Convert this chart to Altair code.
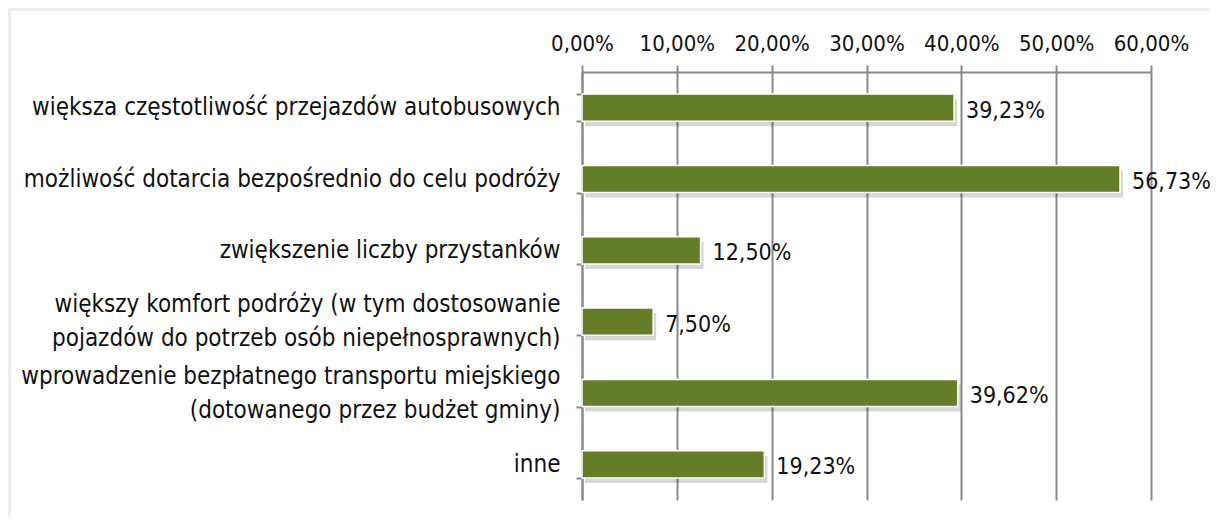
import altair as alt
import pandas as pd

categories = [
    "większa częstotliwość przejazdów autobusowych",
    "możliwość dotarcia bezpośrednio do celu podróży",
    "zwiększenie liczby przystanków",
    "większy komfort podróży (w tym dostosowanie|pojazdów do potrzeb osób niepełnosprawnych)",
    "wprowadzenie bezpłatnego transportu miejskiego|(dotowanego przez budżet gminy)",
    "inne",
]
values = [39.23, 56.73, 12.50, 7.50, 39.62, 19.23]
x_ticks = [0, 10, 20, 30, 40, 50, 60]

df = pd.DataFrame({"cat": categories, "v": values})

FONT = "DejaVu Sans Condensed"
GREEN = "#657c28"
GREY = "#898989"
W, H = 569, 428

y_enc = alt.Y(
    "cat:N",
    sort=categories,
    title=None,
    scale=alt.Scale(paddingInner=0.62, paddingOuter=0.31),
    axis=alt.Axis(
        labelExpr="split(datum.label, '|')",
        labelFont=FONT,
        labelFontSize=24,
        labelColor="#111111",
        labelLimit=600,
        labelPadding=16,
        labelLineHeight=34,
        labelOverlap=False,
        labelOffset=alt.condition("length(split(datum.value, '|')) > 1", alt.value(-17), alt.value(0)),
        tickSize=6,
        tickWidth=2,
        tickColor=GREY,
        tickBand="extent",
        domainColor=GREY,
        domainWidth=2,
        grid=False,
    ),
)

x_enc = alt.X(
    "v:Q",
    title=None,
    scale=alt.Scale(domain=[0, 60], nice=False),
    axis=alt.Axis(
        orient="top",
        values=x_ticks,
        labelExpr="replace(format(datum.value, '.2f'), '.', ',') + '%'",
        labelFont=FONT,
        labelFontSize=22,
        labelColor="#111111",
        labelPadding=10,
        labelOverlap=False,
        labelFlush=False,
        tickSize=7,
        tickWidth=2,
        tickColor=GREY,
        domainColor=GREY,
        domainWidth=2,
        grid=True,
        gridColor=GREY,
        gridWidth=2,
    ),
)

base = alt.Chart(df)

border = base.mark_rect(fill=None, stroke="#eeeeee", strokeWidth=3).encode(
    x=alt.value(-573), x2=alt.value(W + 800), y=alt.value(-63), y2=alt.value(H + 200)
)

shadow = base.mark_bar(color="#000000", opacity=0.16, xOffset=3, yOffset=5).encode(
    x=alt.X("v:Q"), y=alt.Y("cat:N", sort=categories)
)

bars = base.mark_bar(color=GREEN, stroke="white", strokeWidth=1.5).encode(
    x=x_enc, y=y_enc
)

labels = base.transform_calculate(
    lab="replace(format(datum.v, '.2f'), '.', ',') + '%'"
).mark_text(
    align="left", baseline="middle", dx=12, dy=3, font=FONT, fontSize=23, color="#111111"
).encode(
    x="v:Q", y=alt.Y("cat:N", sort=categories), text="lab:N"
)

chart = (
    alt.layer(border, shadow, bars, labels)
    .properties(
        width=W,
        height=H,
        autosize=alt.AutoSizeParams(type="none"),
        padding={"left": 574, "top": 64, "right": 59, "bottom": 17},
        background="white",
    )
    .configure_view(stroke=None)
)

chart.save("out.html", embed_options={"renderer": "svg", "actions": False})
